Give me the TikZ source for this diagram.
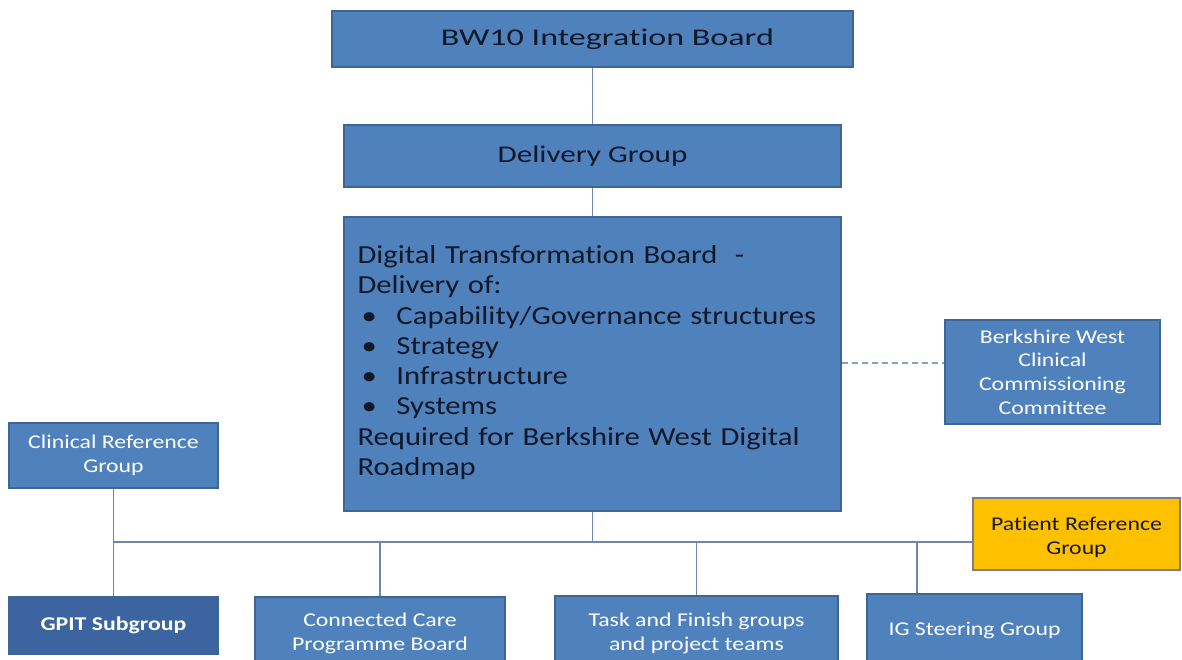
\documentclass[tikz,border=0pt]{standalone}
\usepackage{fontspec}
\setmainfont{Carlito}[FakeStretch=1.22, Ligatures={NoCommon}]
\newfontfamily\dtbfont{Carlito}[FakeStretch=1.18, Ligatures={NoCommon}]
\newfontfamily\titlefont{Carlito}[FakeStretch=1.3, Ligatures={NoCommon}]
\newfontfamily\bwfont{Carlito}[FakeStretch=1.42, Ligatures={NoCommon}]
\definecolor{boxblue}{HTML}{4F81BD}
\definecolor{boxedge}{HTML}{3F6594}
\definecolor{darkblue}{HTML}{3B64A0}
\definecolor{gold}{HTML}{FFC000}
\definecolor{goldedge}{HTML}{7F7F7F}
\definecolor{linkgrey}{HTML}{6F86AA}
\definecolor{inkdark}{HTML}{111827}
% invisible struts that push a text block down (tall) or up (deep)
\newcommand\tallstrut[1]{\rule{0pt}{#1}}
\newcommand\deepstrut[1]{\rule[-#1]{0pt}{0pt}}
\begin{document}
\begin{tikzpicture}[x=1pt,y=-1pt,
  box/.style={draw=boxedge, line width=1.5pt, fill=boxblue, rectangle, inner sep=4pt, align=center},
  bigtext/.style={text=inkdark, font=\titlefont\fontsize{24}{28}\selectfont},
  smalltext/.style={text=white, font=\fontsize{19.5}{23.6}\selectfont},
  link/.style={draw=linkgrey, line width=1.8pt},
  dashlink/.style={draw=linkgrey!80, line width=1.4pt, dash pattern=on 6pt off 4pt}]
\useasboundingbox (0,0) rectangle (1182,660);
\fill[white] (0,0) rectangle (1182,660);

% top of the hierarchy
\node[box, bigtext, font=\bwfont\fontsize{24}{28}\selectfont, minimum width=521pt, minimum height=56pt] (bw) at (592.5,39) {\hspace*{30pt}BW10 Integration Board};
\node[box, bigtext, minimum width=497pt, minimum height=62pt] (dg) at (592.5,156) {Delivery Group};
\node[box, bigtext, minimum width=497pt, minimum height=294pt, text width=470pt, align=left,
      font=\dtbfont\fontsize{26}{30.3}\selectfont] (dtb) at (592.5,364) {%
  Digital Transformation Board~ -\\
  Delivery of:\\
  \hspace*{4pt}\makebox[35pt][l]{\textbullet}Capability/Governance structures\\
  \hspace*{4pt}\makebox[35pt][l]{\textbullet}Strategy\\
  \hspace*{4pt}\makebox[35pt][l]{\textbullet}Infrastructure\\
  \hspace*{4pt}\makebox[35pt][l]{\textbullet}Systems\\
  Required for Berkshire West Digital\\
  Roadmap\deepstrut{7pt}};

% side and reference groups
\node[box, smalltext, minimum width=215pt, minimum height=104pt] (ccc) at (1052.5,372)
  {Berkshire West\\Clinical\\Commissioning\\Committee};
\node[box, smalltext, minimum width=209pt, minimum height=65pt] (crg) at (113.5,455.5)
  {Clinical Reference\\Group};
\node[box, smalltext, draw=goldedge, fill=gold, text=inkdark, minimum width=207pt, minimum height=72pt] (prg) at (1076.5,534)
  {\tallstrut{20pt}Patient Reference\\Group};

% working groups along the bottom
\node[box, smalltext, fill=darkblue, font=\fontsize{19.5}{23.6}\selectfont\bfseries, minimum width=209pt, minimum height=57pt] (gpit) at (113.5,625.5)
  {GPIT Subgroup};
\node[box, smalltext, minimum width=250pt, minimum height=67pt] (ccp) at (380,630.5)
  {\tallstrut{19pt}Connected Care\\Programme Board};
\node[box, smalltext, minimum width=283pt, minimum height=69pt] (tf) at (696.5,630.5)
  {\tallstrut{19pt}Task and Finish groups\\and project teams};
\node[box, smalltext, minimum width=215pt, minimum height=68pt] (ig) at (974.5,628)
  {\tallstrut{18pt}IG Steering Group};

% connectors
\coordinate (busL) at (113,542);
\coordinate (busM) at (592.5,542);
\coordinate (igtap) at (917,542);
\draw[link] (bw.south) -- (dg.north);
\draw[link] (dg.south) -- (dtb.north);
\draw[link] (dtb.south) -- (busM);
\draw[link] (crg.south) -- (gpit.north);
\draw[link] (busL) -- (prg.west |- busL);
\draw[link] (ccp.north) -- (ccp.north |- busL);
\draw[link] (tf.north) -- (tf.north |- busL);
\draw[link] (igtap |- ig.north) -- (igtap);
\draw[dashlink] (dtb.east |- 0,363) -- (ccc.west |- 0,363);
\end{tikzpicture}
\end{document}
